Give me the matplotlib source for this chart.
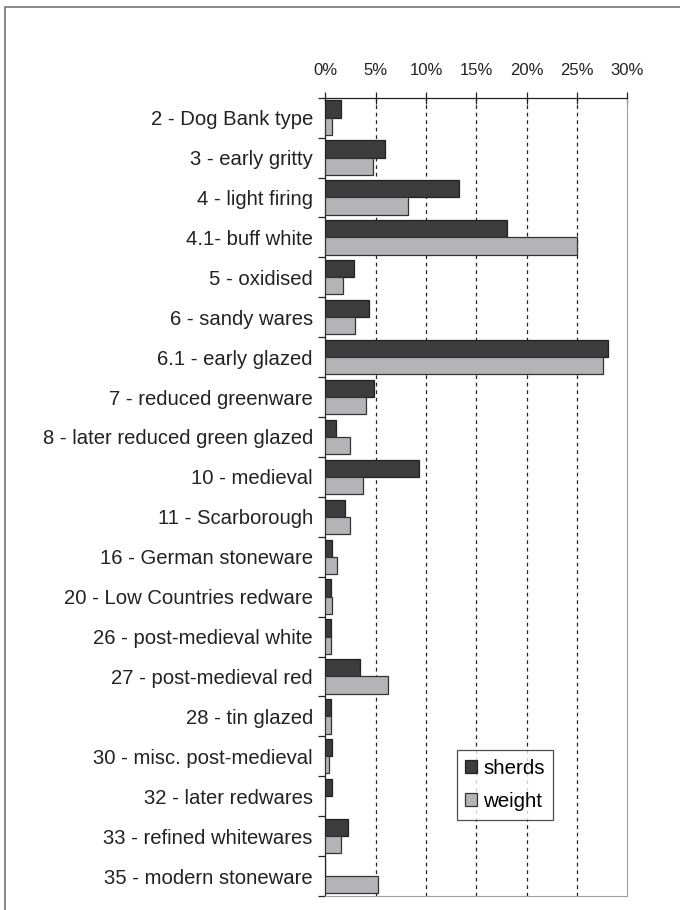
import matplotlib
matplotlib.use('Agg')
import matplotlib.pyplot as plt
from matplotlib.patches import Rectangle
from matplotlib.ticker import FixedLocator, NullFormatter
import numpy as np

plt.rcParams['font.family'] = ['Liberation Sans', 'DejaVu Sans']

categories = ['2 - Dog Bank type', '3 - early gritty', '4 - light firing', '4.1- buff white',
              '5 - oxidised', '6 - sandy wares', '6.1 - early glazed', '7 - reduced greenware',
              '8 - later reduced green glazed', '10 - medieval', '11 - Scarborough',
              '16 - German stoneware', '20 - Low Countries redware', '26 - post-medieval white',
              '27 - post-medieval red', '28 - tin glazed', '30 - misc. post-medieval',
              '32 - later redwares', '33 - refined whitewares', '35 - modern stoneware']
sherds = [1.56, 5.9, 13.3, 18.05, 2.82, 4.37, 28.1, 4.87, 1.03, 9.34,
          1.92, 0.66, 0.53, 0.53, 3.48, 0.53, 0.66, 0.66, 2.22, 0.0]
weight = [0.66, 4.74, 8.18, 25.0, 1.79, 2.98, 27.6, 4.07, 2.45, 3.71,
          2.45, 1.16, 0.66, 0.53, 6.26, 0.53, 0.4, 0.0, 1.56, 5.23]
xticks = [0, 5, 10, 15, 20, 25, 30]

fig = plt.figure(figsize=(6.8, 9.1), dpi=100)
# outer frame, only left and top edges fall inside the image
fig.patches.append(Rectangle((5 / 680, -0.1), 1.2, 1.1 - 7 / 910, transform=fig.transFigure,
                             fill=False, edgecolor='#7f7f7f', linewidth=1.3))

ax = fig.add_axes([325.3 / 680, 1 - 896 / 910, 302 / 680, (896 - 97.7) / 910])

y = np.arange(len(categories))
h = 0.43
ax.barh(y - h / 2, sherds, height=h, color='#3c3c3c', edgecolor='#222222', linewidth=0.9, label='sherds', zorder=3)
ax.barh(y + h / 2, weight, height=h, color='#b4b4b6', edgecolor='#333333', linewidth=0.9, label='weight', zorder=3)

ax.set_xlim(0, 30)
ax.set_ylim(len(categories) - 0.5, -0.5)

ax.xaxis.set_ticks_position('top')
ax.xaxis.set_label_position('top')
ax.set_xticks(xticks)
ax.set_xticklabels([f'{t}%' for t in xticks])
ax.tick_params(axis='x', direction='inout', length=8, width=0.9, pad=10, labelsize=12, colors='#222222')
for t in xticks[1:-1]:
    ax.axvline(t, color='#222222', linestyle=(0, (3, 3)), linewidth=0.9, zorder=1)

# y ticks at category boundaries, labels at centers
ax.yaxis.set_major_locator(FixedLocator(np.arange(-0.5, len(categories), 1)))
ax.yaxis.set_major_formatter(NullFormatter())
ax.yaxis.set_minor_locator(FixedLocator(y))
ax.set_yticklabels(categories, minor=True)
ax.tick_params(axis='y', which='major', direction='out', length=5, width=0.9, color='#222222')
ax.tick_params(axis='y', which='minor', length=0, pad=9, labelsize=14.6, labelcolor='#222222')

ax.spines['top'].set_color('#222222')
ax.spines['left'].set_color('#222222')
ax.spines['top'].set_linewidth(0.9)
ax.spines['left'].set_linewidth(0.9)
ax.spines['right'].set_color('#a0a0a0')
ax.spines['bottom'].set_color('#a0a0a0')

leg = ax.legend(loc='upper left', bbox_to_anchor=(0.435, 0.183), borderaxespad=0,
                fontsize=14.8, frameon=True, fancybox=False, handlelength=0.58, handleheight=0.58,
                handletextpad=0.29, labelspacing=0.7, borderpad=0.42)
leg.get_frame().set_edgecolor('#222222')
leg.get_frame().set_linewidth(0.9)

fig.savefig('out.png', dpi=100)
